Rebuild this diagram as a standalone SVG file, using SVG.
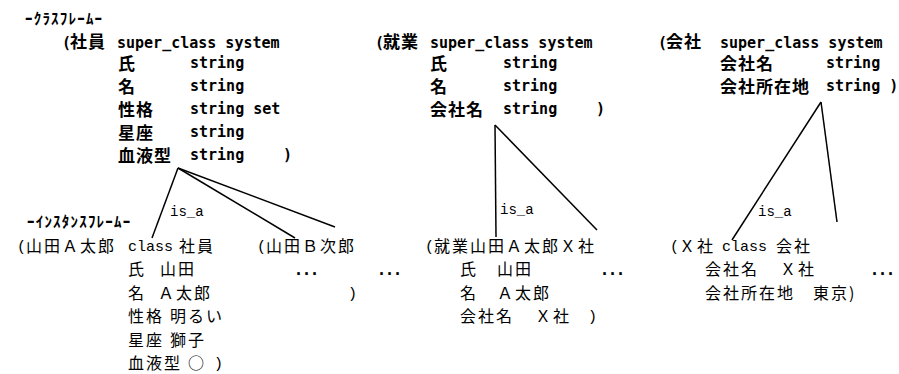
<svg xmlns="http://www.w3.org/2000/svg" width="899" height="374" viewBox="0 0 899 374">
<style>
text { fill: #000; }
.m { font-family: "DejaVu Sans Mono", "Noto Sans CJK JP", monospace; font-size: 15px; font-weight: bold; }
.j { font-family: "Noto Sans CJK JP", sans-serif; font-size: 17px; font-weight: bold; letter-spacing: 1px; }
.h { font-family: "Noto Sans CJK JP", sans-serif; font-size: 15px; font-weight: bold; letter-spacing: 1.2px; }
.im { font-family: "Liberation Mono", "Noto Sans CJK JP", monospace; font-size: 15px; }
.ij { font-family: "Noto Sans CJK JP", sans-serif; font-size: 16px; letter-spacing: 2px; }
.dots { font-family: "DejaVu Sans Mono", monospace; font-size: 15px; font-weight: bold; letter-spacing: -1px; }
.isa { font-family: "Liberation Mono", monospace; font-size: 14px; }
.c line { stroke: #000; stroke-width: 1.5; }
</style>
<rect width="899" height="374" fill="#fff"/>

<text class="h" x="25" y="24">ｰｸﾗｽﾌﾚｰﾑｰ</text>
<text class="h" x="27" y="227">ｰｲﾝｽﾀﾝｽﾌﾚｰﾑｰ</text>

<g id="connectors" class="c">
  <line x1="178" y1="168" x2="152" y2="238"/>
  <line x1="178" y1="168" x2="295" y2="238"/>
  <line x1="178" y1="168" x2="335" y2="227"/>
  <line x1="495" y1="125" x2="496" y2="237"/>
  <line x1="495" y1="125" x2="597" y2="230"/>
  <line x1="821" y1="102" x2="732" y2="240"/>
  <line x1="821" y1="102" x2="837" y2="222"/>
  <text class="isa" x="170" y="216">is_a</text>
  <text class="isa" x="500" y="214">is_a</text>
  <text class="isa" x="758" y="216">is_a</text>
</g>

<g id="class-shain">
  <text class="m" x="62" y="48">(</text><text class="j" x="70" y="48">社員</text>
  <text class="m" x="117" y="48">super_class system</text>
  <text class="j" x="118" y="70">氏</text><text class="m" x="190" y="68">string</text>
  <text class="j" x="118" y="93">名</text><text class="m" x="190" y="91">string</text>
  <text class="j" x="118" y="116">性格</text><text class="m" x="190" y="114">string set</text>
  <text class="j" x="118" y="139">星座</text><text class="m" x="190" y="137">string</text>
  <text class="j" x="118" y="162">血液型</text><text class="m" x="190" y="160">string</text><text class="m" x="283" y="160">)</text>
</g>

<g id="class-shugyo">
  <text class="m" x="375" y="48">(</text><text class="j" x="383" y="48">就業</text>
  <text class="m" x="430" y="48">super_class system</text>
  <text class="j" x="430" y="70">氏</text><text class="m" x="503" y="68">string</text>
  <text class="j" x="430" y="93">名</text><text class="m" x="503" y="91">string</text>
  <text class="j" x="430" y="116">会社名</text><text class="m" x="503" y="114">string</text><text class="m" x="596" y="114">)</text>
</g>

<g id="class-kaisha">
  <text class="m" x="658" y="48">(</text><text class="j" x="666" y="48">会社</text>
  <text class="m" x="720" y="48">super_class system</text>
  <text class="j" x="720" y="70">会社名</text><text class="m" x="826" y="68">string</text>
  <text class="j" x="720" y="93">会社所在地</text><text class="m" x="826" y="91">string )</text>
</g>

<g id="inst-yamada-a">
  <text class="im" x="17" y="251">(</text><text class="ij" x="26" y="252">山田Ａ太郎</text>
  <text class="im" x="128" y="251">class</text><text class="ij" x="179" y="252">社員</text>
  <text class="ij" x="128" y="275">氏</text><text class="ij" x="160" y="275">山田</text>
  <text class="ij" x="128" y="299">名</text><text class="ij" x="158" y="299">Ａ太郎</text>
  <text class="ij" x="128" y="322">性格</text><text class="ij" x="170" y="322">明るい</text>
  <text class="ij" x="128" y="346">星座</text><text class="ij" x="170" y="346">獅子</text>
  <text class="ij" x="128" y="369">血液型</text><text class="ij" x="188" y="369">○</text><text class="im" x="214" y="368">)</text>
</g>

<g id="inst-yamada-b">
  <text class="im" x="257" y="251">(</text><text class="ij" x="266" y="252">山田Ｂ次郎</text>
  <text class="dots" x="294" y="275">...</text>
  <text class="im" x="348" y="298">)</text>
</g>

<text class="dots" x="377" y="275">...</text>

<g id="inst-shugyo">
  <text class="im" x="425" y="251">(</text><text class="ij" x="434" y="252">就業山田Ａ太郎Ｘ社</text>
  <text class="ij" x="460" y="275">氏</text><text class="ij" x="497" y="275">山田</text>
  <text class="ij" x="460" y="299">名</text><text class="ij" x="497" y="299">Ａ太郎</text>
  <text class="ij" x="460" y="322">会社名</text><text class="ij" x="535" y="322">Ｘ社</text><text class="im" x="588" y="321">)</text>
</g>

<text class="dots" x="600" y="275">...</text>

<g id="inst-kaisha">
  <text class="im" x="670" y="251">(</text><text class="ij" x="679" y="252">Ｘ社</text>
  <text class="im" x="722" y="251">class</text><text class="ij" x="776" y="252">会社</text>
  <text class="ij" x="705" y="275">会社名</text><text class="ij" x="780" y="275">Ｘ社</text>
  <text class="ij" x="705" y="299">会社所在地</text><text class="ij" x="813" y="299">東京)</text>
</g>

<text class="dots" x="870" y="275">...</text>
</svg>
